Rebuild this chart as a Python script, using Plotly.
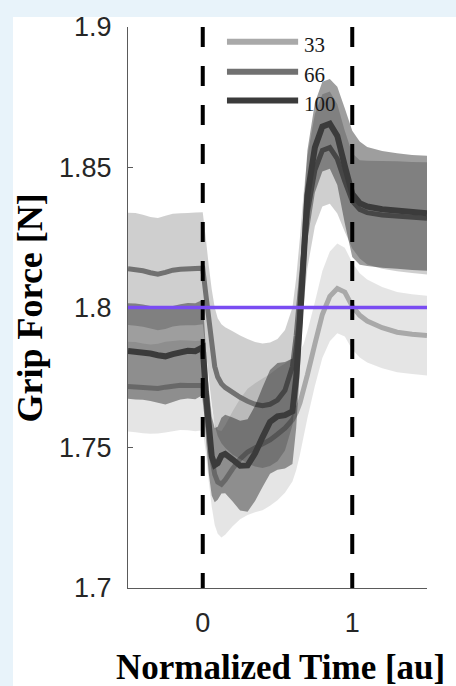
import plotly.graph_objects as go

# Normalized time axis (au)
t = [-0.5, -0.45, -0.4, -0.35, -0.3, -0.25, -0.2, -0.15, -0.1, -0.05, 0.0,
     0.02, 0.04, 0.06, 0.08, 0.1, 0.125, 0.15, 0.2, 0.25, 0.3, 0.35, 0.4,
     0.45, 0.5, 0.55, 0.6, 0.625, 0.65, 0.675, 0.7, 0.75, 0.8, 0.85, 0.9,
     0.95, 1.0, 1.05, 1.1, 1.2, 1.3, 1.4, 1.5]

# Mean grip force [N] per condition
mean_33 = [1.7718, 1.7716, 1.7712, 1.7709, 1.7711, 1.7716, 1.7720, 1.7723, 1.7722, 1.7720, 1.7722,
           1.7650, 1.7550, 1.7465, 1.7405, 1.7378, 1.7370, 1.7385, 1.7425, 1.7460, 1.7485, 1.7500, 1.7512,
           1.7528, 1.7548, 1.7570, 1.7600, 1.7625, 1.7660, 1.7705, 1.7760, 1.7870, 1.7975, 1.8040, 1.8068,
           1.8055, 1.8005, 1.7972, 1.7952, 1.7928, 1.7912, 1.7905, 1.7900]
mean_66 = [1.8138, 1.8136, 1.8131, 1.8124, 1.8119, 1.8125, 1.8133, 1.8136, 1.8137, 1.8138, 1.8140,
           1.8050, 1.7950, 1.7860, 1.7790, 1.7752, 1.7728, 1.7715, 1.7695, 1.7680, 1.7666, 1.7655, 1.7650,
           1.7655, 1.7670, 1.7705, 1.7790, 1.7900, 1.8050, 1.8210, 1.8340, 1.8490, 1.8560, 1.8570, 1.8530,
           1.8450, 1.8380, 1.8350, 1.8338, 1.8330, 1.8325, 1.8321, 1.8318]
mean_100 = [1.7845, 1.7843, 1.7841, 1.7836, 1.7830, 1.7826, 1.7834, 1.7842, 1.7846, 1.7844, 1.7858,
            1.7700, 1.7560, 1.7470, 1.7438, 1.7445, 1.7472, 1.7478, 1.7458, 1.7436, 1.7437, 1.7480, 1.7538,
            1.7592, 1.7612, 1.7616, 1.7630, 1.7750, 1.7950, 1.8200, 1.8400, 1.8570, 1.8645, 1.8655, 1.8612,
            1.8505, 1.8405, 1.8372, 1.8360, 1.8350, 1.8344, 1.8339, 1.8336]

# Standard error half-widths [N]
sem_33 = [0.0160, 0.0161, 0.0160, 0.0159, 0.0160, 0.0162, 0.0161, 0.0160, 0.0160, 0.0161, 0.0160,
          0.0165, 0.0170, 0.0175, 0.0180, 0.0185, 0.0190, 0.0195, 0.0205, 0.0215, 0.0225, 0.0230, 0.0235,
          0.0235, 0.0235, 0.0230, 0.0220, 0.0205, 0.0185, 0.0165, 0.0155, 0.0150, 0.0155, 0.0160, 0.0160,
          0.0158, 0.0155, 0.0150, 0.0148, 0.0145, 0.0143, 0.0142, 0.0142]
sem_66 = [0.0200, 0.0201, 0.0200, 0.0199, 0.0200, 0.0202, 0.0201, 0.0200, 0.0200, 0.0201, 0.0200,
          0.0200, 0.0200, 0.0205, 0.0210, 0.0210, 0.0212, 0.0215, 0.0220, 0.0220, 0.0222, 0.0222, 0.0222,
          0.0220, 0.0218, 0.0215, 0.0210, 0.0205, 0.0200, 0.0200, 0.0200, 0.0200, 0.0200, 0.0200, 0.0195,
          0.0180, 0.0170, 0.0175, 0.0185, 0.0192, 0.0196, 0.0198, 0.0200]
sem_100 = [0.0170, 0.0171, 0.0170, 0.0169, 0.0170, 0.0172, 0.0171, 0.0170, 0.0170, 0.0171, 0.0170,
           0.0160, 0.0150, 0.0140, 0.0132, 0.0130, 0.0135, 0.0140, 0.0150, 0.0160, 0.0165, 0.0170, 0.0178,
           0.0185, 0.0190, 0.0190, 0.0188, 0.0180, 0.0170, 0.0165, 0.0160, 0.0160, 0.0160, 0.0160, 0.0175,
           0.0205, 0.0225, 0.0220, 0.0212, 0.0208, 0.0206, 0.0205, 0.0205]

conditions = ["33", "66", "100"]
means = [mean_33, mean_66, mean_100]
sems = [sem_33, sem_66, sem_100]

reference_level = 1.8
event_times = [0, 1]

y_tick_vals = [1.7, 1.75, 1.8, 1.85, 1.9]
y_tick_text = ["1.7", "1.75", "1.8", "1.85", "1.9"]
x_tick_vals = [0, 1]
x_tick_text = ["0", "1"]

line_colors = ["#a9a9a9", "#717171", "#3b3b3b"]
line_widths = [5, 5, 6]
band_colors = ["rgba(0,0,0,0.10)", "rgba(0,0,0,0.19)", "rgba(0,0,0,0.38)"]

fig = go.Figure()

# each condition: shaded error band, then its mean trace
for name, m, s, lc, lw, bc in zip(conditions, means, sems, line_colors, line_widths, band_colors):
    upper = [a + b for a, b in zip(m, s)]
    lower = [a - b for a, b in zip(m, s)]
    fig.add_trace(go.Scatter(
        x=t + t[::-1], y=upper + lower[::-1],
        fill="toself", fillcolor=bc, mode="none",
        showlegend=False, hoverinfo="skip"))
    fig.add_trace(go.Scatter(
        x=t, y=m, mode="lines", name=name,
        line=dict(color=lc, width=lw), showlegend=False))

# event markers
for et in event_times:
    fig.add_shape(type="line", xref="x", yref="y", x0=et, x1=et, y0=1.9, y1=1.7,
                  line=dict(color="black", width=4, dash="20px,19px"), layer="above")

# reference force level
fig.add_shape(type="line", xref="x", yref="y", x0=-0.5, x1=1.5,
              y0=reference_level, y1=reference_level,
              line=dict(color="#7a4cf2", width=3.5), layer="above")

# legend drawn as sample strokes with labels
legend_y = [0.9735, 0.9204, 0.869]
for name, lc, ly in zip(conditions, line_colors, legend_y):
    fig.add_shape(type="line", xref="paper", yref="paper", x0=0.331, x1=0.569,
                  y0=ly, y1=ly, line=dict(color=lc, width=6), layer="above")
    fig.add_annotation(xref="paper", yref="paper", x=0.583, y=ly - 0.006,
                       text=name, showarrow=False, xanchor="left", yanchor="middle",
                       font=dict(family="Liberation Serif", size=21, color="#1a1a1a"))

# light frame strips around the figure panel
frame = "#e8f3fa"
fig.add_shape(type="rect", xref="paper", yref="paper", x0=-0.43, x1=1.2,
              y0=1.0177, y1=1.05, fillcolor=frame, line=dict(width=0), layer="below")
fig.add_shape(type="rect", xref="paper", yref="paper", x0=-0.43, x1=-0.3846,
              y0=-0.2, y1=1.05, fillcolor=frame, line=dict(width=0), layer="below")

# axis titles
fig.add_annotation(xref="paper", yref="paper", x=-0.328, y=0.5, textangle=-90,
                   text="<b>Grip Force [N]</b>", showarrow=False,
                   xanchor="center", yanchor="middle",
                   font=dict(family="Liberation Serif", size=36, color="black"))
fig.add_annotation(xref="paper", yref="paper", x=0.51, y=-0.1425,
                   text="<b>Normalized Time [au]</b>", showarrow=False,
                   xanchor="center", yanchor="middle",
                   font=dict(family="Liberation Serif", size=35, color="black"))

axis_common = dict(showline=True, linecolor="#5a5a5a", linewidth=1.2,
                   ticks="inside", ticklen=5, tickcolor="#5a5a5a",
                   showgrid=False, zeroline=False,
                   tickfont=dict(family="Liberation Sans", size=27, color="#262626"))

fig.update_layout(
    width=456, height=686, autosize=False,
    margin=dict(l=128, r=29, t=23, b=98),
    paper_bgcolor="white", plot_bgcolor="white",
    showlegend=False,
    xaxis=dict(range=[-0.5, 1.5], tickvals=x_tick_vals, ticktext=x_tick_text,
               ticklabelstandoff=10, **axis_common),
    yaxis=dict(range=[1.7, 1.9], tickvals=y_tick_vals, ticktext=y_tick_text,
               ticklabelstandoff=10, **axis_common),
)

fig.write_html("out.html")
